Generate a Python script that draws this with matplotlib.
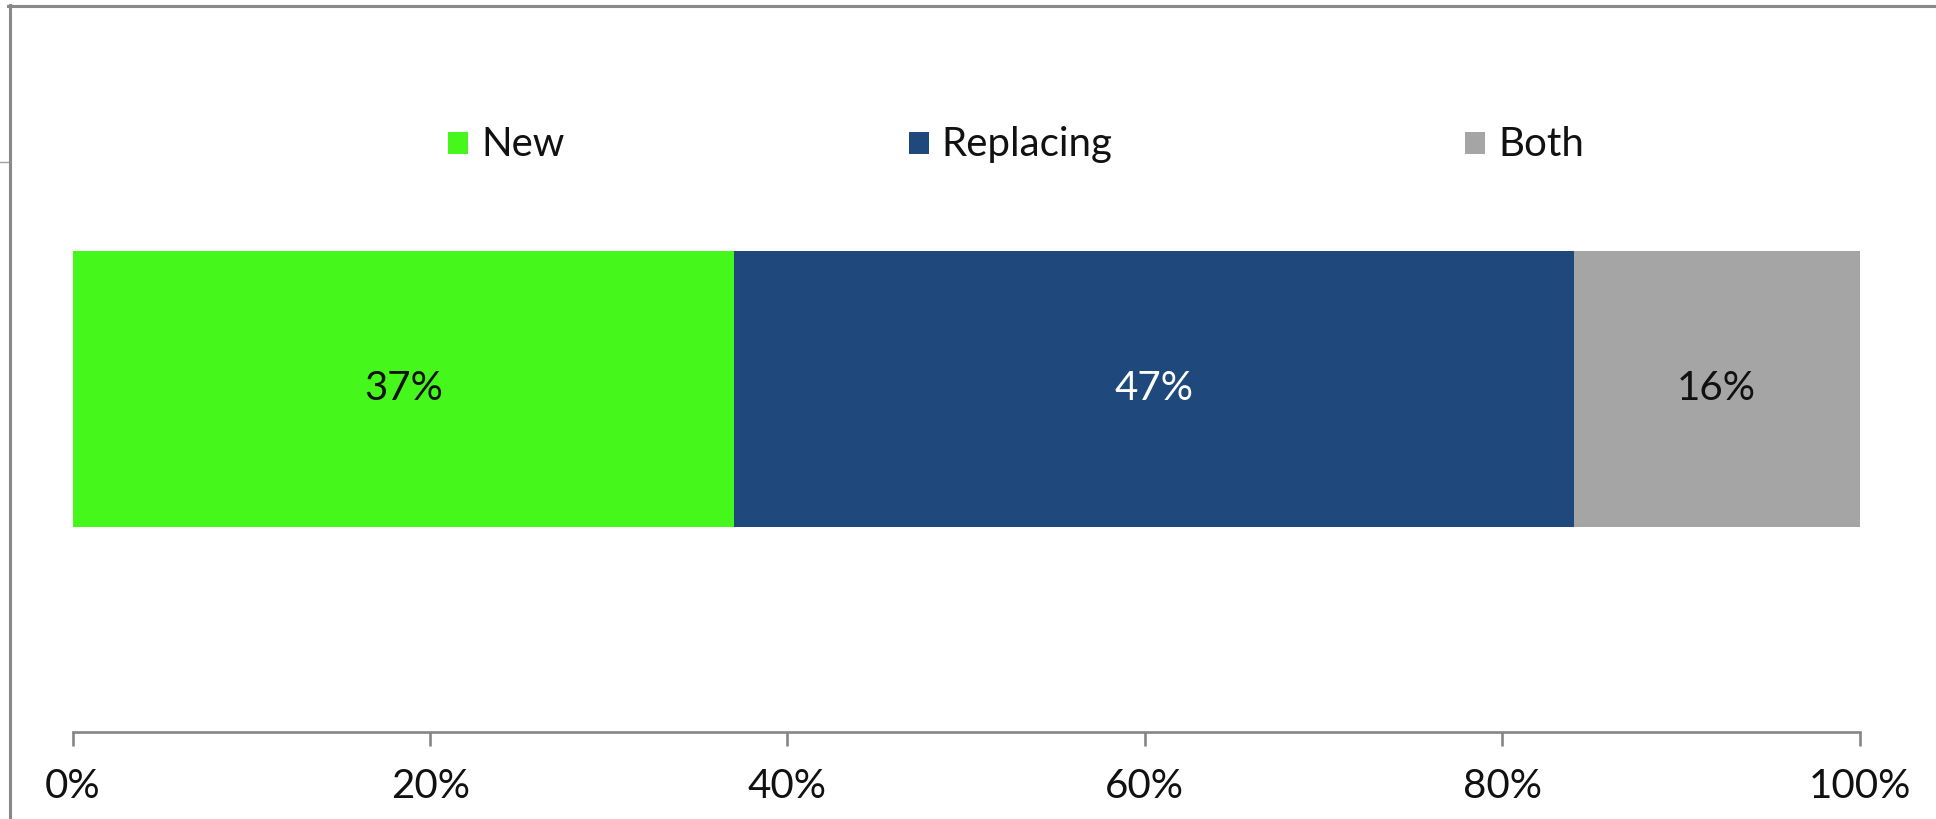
import matplotlib
matplotlib.use('Agg')
from matplotlib import pyplot as plt
from matplotlib.lines import Line2D
from matplotlib.patches import Rectangle

categories = ['New', 'Replacing', 'Both']
shares = [37, 47, 16]
colors = ['#46F71B', '#1F497D', '#A5A5A5']
label_colors = ['#111111', '#FFFFFF', '#111111']
ticks = [0, 20, 40, 60, 80, 100]
tick_labels = ['0%', '20%', '40%', '60%', '80%', '100%']

W, H = 1936, 819
plt.rcParams['font.family'] = ['Lato', 'DejaVu Sans']
fs = 29

fig = plt.figure(figsize=(W / 100, H / 100), dpi=100)
ax = fig.add_axes([72.8 / W, 1 - 732 / H, (1859.5 - 72.8) / W, (732 - 250.6) / H])

# one stacked horizontal bar
left = 0
for name, val, col, tcol in zip(categories, shares, colors, label_colors):
    ax.barh(0, val, left=left, height=1, color=col, edgecolor='none')
    ax.text(left + val / 2, 0, f'{val}%', ha='center', va='center',
            fontsize=fs, color=tcol)
    left += val

ax.set_xlim(0, 100)
ax.set_ylim(-1.2417, 0.5)
ax.set_xticks(ticks)
ax.set_xticklabels(tick_labels)
ax.set_yticks([])
for s in ['top', 'right', 'left']:
    ax.spines[s].set_visible(False)
ax.spines['bottom'].set_color('#868686')
ax.spines['bottom'].set_linewidth(1.9)
ax.tick_params(axis='x', direction='out', length=10, width=1.9,
               color='#868686', labelsize=fs, labelcolor='#111111', pad=16)

# legend along the top, placed by hand
leg_sq = [448, 909, 1465]
leg_txt = [481, 941, 1498]
for name, col, xs, xt in zip(categories, colors, leg_sq, leg_txt):
    fig.add_artist(Rectangle((xs / W, 1 - 154 / H), 20 / W, 22 / H,
                             transform=fig.transFigure, color=col, lw=0))
    fig.text(xt / W, 1 - 144.5 / H, name, ha='left', va='center',
             fontsize=fs, color='#111111')

# outer chart frame
fig.add_artist(Line2D([8.3 / W, 1], [1 - 6 / H, 1 - 6 / H],
                      transform=fig.transFigure, color='#898989', lw=2.2))
fig.add_artist(Line2D([9.6 / W, 9.6 / W], [0, 1 - 5 / H],
                      transform=fig.transFigure, color='#898989', lw=2.2))
fig.add_artist(Line2D([0, 8 / W], [1 - 162 / H, 1 - 162 / H],
                      transform=fig.transFigure, color='#A0A0A0', lw=1))

fig.savefig('out.png', dpi=100, facecolor='white')
